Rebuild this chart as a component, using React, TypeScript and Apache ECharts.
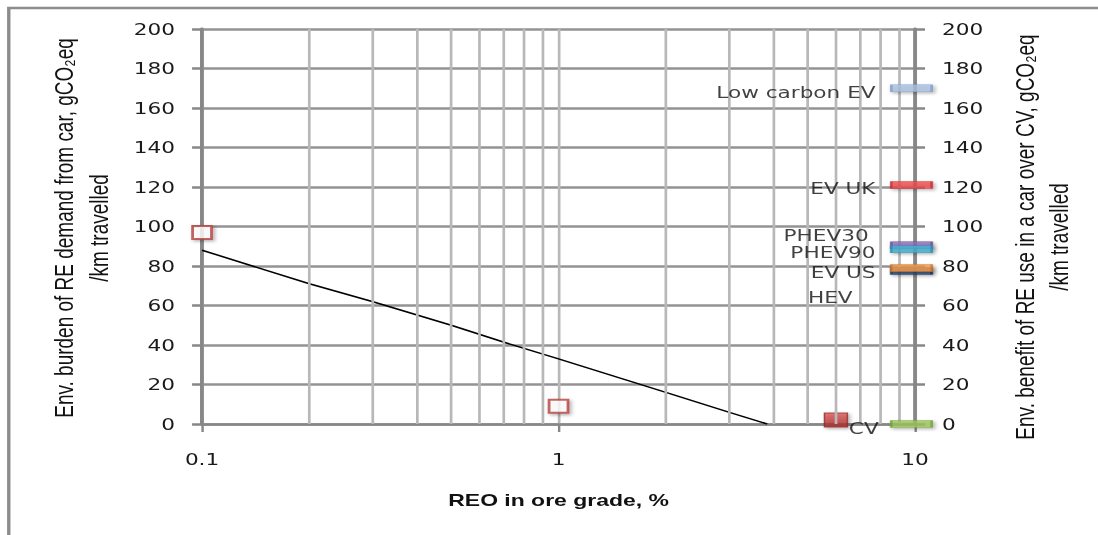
import React, { useEffect, useRef } from "react";
import * as echarts from "echarts";

// The reference picture is horizontally stretched; the chart is drawn at a
// narrower width and scaled on X to reproduce that look.
const S = 1.3506;
const CW = 813;
const CH = 535;

// ---------- data ----------
const xTickLabels = ["0.1", "1", "10"];
const minorGridX = [0.2, 0.3, 0.4, 0.5, 0.6, 0.7, 0.8, 0.9, 2, 3, 4, 5, 6, 7, 8, 9];

// black line: env. burden vs ore grade
const burdenX = [0.1, 0.2, 0.3, 0.5, 0.7, 1, 2, 3, 3.85];
const burdenY = [88, 71, 62, 50, 41.5, 33, 16, 6, 0];

// open red squares
const pointsX = [0.1, 1];
const pointsY = [97, 9];

// filled red marker
const filledX = [6];
const filledY = [2];

// vehicles on the right axis
const vehicleNames = ["Low carbon EV", "EV UK", "PHEV30", "PHEV90", "HEV", "EV US", "CV"];
const vehicleBenefit = [170, 121, 90.5, 88.5, 77.5, 79, 0];
const vehicleX = 10;

// ---------- styles ----------
const vehicleFill = ["#a9c0df", "#ef4a4c", "#8b6bb5", "#46b2d2", "#2c4d75", "#f39a4b", "#9cc45b"];
const vehicleBorder = ["#7f9dc9", "#c23234", "#6a4c94", "#2b8fb0", "#1f3a5c", "#c97633", "#77a03b"];
// [label distance, label dy]
const vehicleLabelLayout: [number, number][] = [
  [10.6, 4],
  [10.6, 3],
  [15.7, -10],
  [10.6, 3],
  [27.6, 26],
  [10.6, 4],
  [8.3, 4],
];

const leftTitle = "Env. burden of RE demand from car, gCO\u2082eq\n/km travelled";
const rightTitle = "Env. benefit of RE use in a car over CV, gCO\u2082eq\n/km travelled";
const xTitle = "REO in ore grade, %";

const axisGray = "#878787";
const tickFont = { fontFamily: "DejaVu Sans", fontSize: 16, color: "#1a1a1a" };
const shadow = { shadowBlur: 3, shadowColor: "rgba(0,0,0,0.35)", shadowOffsetX: 1.5, shadowOffsetY: 1.5 };

function titleText(text: string, x: number, y: number) {
  return {
    type: "text",
    silent: true,
    x,
    y,
    rotation: Math.PI / 2,
    style: {
      text,
      fontFamily: "Liberation Sans",
      fontSize: 19,
      lineHeight: 25.5,
      fill: "#111",
      align: "center",
      verticalAlign: "middle",
    },
  };
}

function buildOption() {
  const yCommon = {
    type: "value",
    min: 0,
    max: 200,
    interval: 20,
    axisLine: { show: true, lineStyle: { color: axisGray, width: 2.8 } },
    axisTick: { show: true, length: 7.4, lineStyle: { color: axisGray, width: 2.5 } },
    axisLabel: { ...tickFont, margin: 20 },
  };
  return {
    animation: false,
    backgroundColor: "#ffffff",
    textStyle: { fontFamily: "DejaVu Sans" },
    grid: { left: 149.6, right: 135.5, top: 29, bottom: 111, containLabel: false },
    xAxis: {
      type: "log",
      logBase: 10,
      min: 0.1,
      max: 10,
      name: xTitle,
      nameLocation: "middle",
      nameGap: 68,
      nameTextStyle: { fontFamily: "Liberation Sans", fontWeight: "bold", fontSize: 17, color: "#111" },
      axisLine: { show: true, onZero: false, lineStyle: { color: axisGray, width: 2.6 } },
      axisTick: { show: true, length: 8, lineStyle: { color: axisGray, width: 1.8 } },
      axisLabel: {
        ...tickFont,
        margin: 27,
        formatter: (v: number) => xTickLabels[Math.round(Math.log10(v)) + 1] ?? String(v),
      },
      splitLine: { show: true, lineStyle: { color: "#b8b8b8", width: 2 } },
    },
    yAxis: [
      {
        ...yCommon,
        position: "left",
        splitLine: { show: true, lineStyle: { color: "#939393", width: 2.5 } },
      },
      {
        ...yCommon,
        position: "right",
        splitLine: { show: false },
      },
    ],
    graphic: [
      {
        type: "rect",
        silent: true,
        shape: { x: 6.5, y: 8, width: 3000, height: 3000 },
        style: { fill: "none", stroke: "#8c8c8c", lineWidth: 2.5 },
      },
      titleText(leftTitle, 60.7, 228),
      titleText(rightTitle, 771.9, 237),
    ],
    series: [
      {
        type: "line",
        data: [],
        z: 1,
        silent: true,
        markLine: {
          silent: true,
          symbol: ["none", "none"],
          label: { show: false },
          lineStyle: { color: "#b8b8b8", width: 2, type: "solid" },
          emphasis: { disabled: true },
          data: minorGridX.map((v) => ({ xAxis: v })),
        },
      },
      {
        type: "line",
        z: 3,
        symbol: "none",
        lineStyle: { color: "#000", width: 1.5 },
        data: burdenX.map((x, i) => [x, burdenY[i]]),
      },
      {
        type: "scatter",
        z: 4,
        clip: false,
        symbol: "rect",
        symbolSize: [14, 13],
        itemStyle: { color: "#ffffff", borderColor: "#b5413f", borderWidth: 2, ...shadow },
        data: pointsX.map((x, i) => [x, pointsY[i]]),
      },
      {
        type: "scatter",
        z: 4,
        clip: false,
        symbol: "rect",
        symbolSize: [17, 14],
        itemStyle: {
          color: new echarts.graphic.LinearGradient(0, 0, 0, 1, [
            { offset: 0, color: "#e05a58" },
            { offset: 1, color: "#a52a2a" },
          ]),
          borderColor: "#8e2a28",
          borderWidth: 1,
          ...shadow,
        },
        data: filledX.map((x, i) => [x, filledY[i]]),
      },
      {
        type: "scatter",
        yAxisIndex: 1,
        z: 5,
        clip: false,
        symbol: "rect",
        symbolSize: [30, 7],
        symbolOffset: [-2.6, 0],
        data: vehicleNames.map((n, i) => ({
          name: n,
          value: [vehicleX, vehicleBenefit[i]],
          itemStyle: {
            color: vehicleFill[i],
            borderColor: vehicleBorder[i],
            borderWidth: 1,
            ...shadow,
          },
          label: {
            show: true,
            position: "left",
            distance: vehicleLabelLayout[i][0],
            offset: [0, vehicleLabelLayout[i][1]],
            formatter: "{b}",
            ...tickFont,
            color: "#111",
          },
        })),
      },
    ],
  };
}

export default function App() {
  const ref = useRef<HTMLDivElement>(null);
  useEffect(() => {
    if (!ref.current) return;
    const chart = echarts.init(ref.current, null, { renderer: "svg", width: CW, height: CH });
    chart.setOption(buildOption() as any);
    return () => chart.dispose();
  }, []);
  return (
    <div
      style={{
        position: "fixed",
        left: 0,
        top: 0,
        width: 1098,
        height: 535,
        overflow: "hidden",
        background: "#fff",
      }}
    >
      <div
        ref={ref}
        style={{ width: CW, height: CH, transform: `scaleX(${S})`, transformOrigin: "0 0" }}
      />
    </div>
  );
}
